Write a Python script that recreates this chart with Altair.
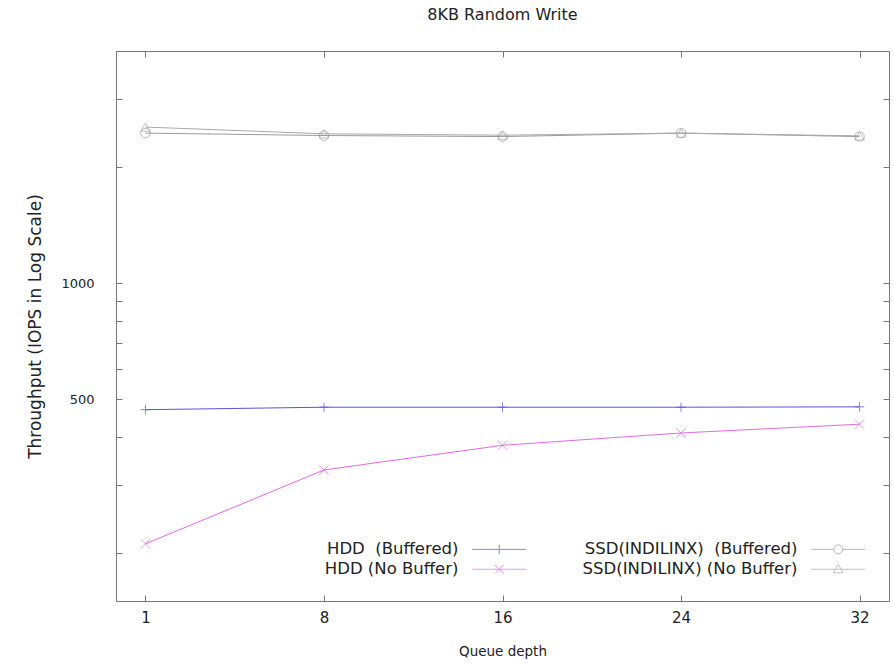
import altair as alt
import pandas as pd

queue_depth = [1, 8, 16, 24, 32]
series_names = ["HDD\u00a0 (Buffered)", "HDD (No Buffer)",
                "SSD(INDILINX)\u00a0 (Buffered)", "SSD(INDILINX) (No Buffer)"]
hdd_buffered = [470, 477, 477, 477, 478]
hdd_nobuffer = [211, 328, 380, 409, 431]
ssd_buffered = [2450, 2415, 2400, 2450, 2400]
ssd_nobuffer = [2540, 2440, 2420, 2450, 2410]
y_tick_values = [200, 300, 400, 500, 600, 700, 800, 900, 1000, 2000, 3000]

rows = []
for name, vals in zip(series_names, [hdd_buffered, hdd_nobuffer, ssd_buffered, ssd_nobuffer]):
    for q, v in zip(queue_depth, vals):
        rows.append({"qd": q, "iops": v, "series": name})
df = pd.DataFrame(rows)

colors = ["#5555dd", "#e46ae4", "#9a9a9a", "#a8a8a8"]
plot_shapes = ["M-1,0H1M0,-1V1", "M-1,-1L1,1M-1,1L1,-1", "circle", "triangle-up"]
legend_shapes = [
    "M-6,0H6M0,-1V1",
    "M-6,0H6M-1,-1L1,1M-1,1L1,-1",
    "M-6,0H-1A1,1 0 1,1 1,0A1,1 0 1,1 -1,0M1,0H6",
    "M-6,0H6M0,-1.1L1.1,0.8L-1.1,0.8Z",
]

font = "DejaVu Sans"
xscale = alt.Scale(type="point", padding=0.165)
yscale = alt.Scale(type="log", domain=[150, 4000], nice=False)
cscale = alt.Scale(domain=series_names, range=colors)

x_main = alt.X("qd:O", scale=xscale, title="Queue depth",
               axis=alt.Axis(orient="bottom", labelAngle=0, domain=False, offset=-6,
                             tickSize=6, labelPadding=9, titlePadding=19, titleFontSize=13.5,
                             labelFontSize=15))
y_main = alt.Y("iops:Q", scale=yscale, title="Throughput (IOPS in Log Scale)",
               axis=alt.Axis(orient="left", values=y_tick_values, domain=False, offset=-6,
                             tickSize=6, labelPadding=22, titlePadding=16, grid=False,
                             titleFontSize=17,
                             labelExpr="(datum.value == 500 || datum.value == 1000) ? format(datum.value, 'd') : ''"))

base = alt.Chart(df)

lines = base.mark_line(strokeWidth=1).encode(
    x=x_main, y=y_main,
    color=alt.Color("series:N", scale=cscale, legend=None),
    detail="series:N",
)

points = base.mark_point(filled=False, size=90, strokeWidth=1).encode(
    x=alt.X("qd:O", scale=xscale, axis=None),
    y=alt.Y("iops:Q", scale=yscale, axis=None),
    color=alt.Color("series:N", scale=cscale, legend=None),
    shape=alt.Shape("series:N", scale=alt.Scale(domain=series_names, range=plot_shapes), legend=None),
)

mirror = base.mark_point(opacity=0).encode(
    x=alt.X("qd:O", scale=xscale,
            axis=alt.Axis(orient="top", labels=False, title=None, domain=False, offset=-6, tickSize=6)),
    y=alt.Y("iops:Q", scale=yscale,
            axis=alt.Axis(orient="right", labels=False, title=None, domain=False, offset=-6,
                          tickSize=6, values=y_tick_values, grid=False)),
)

leg = alt.Legend(orient="none", legendX=375, legendY=490, columns=2, title=None,
                 labelAlign="right", labelOffset={"expr": "-49"}, labelFontSize=16.5, labelFont=font,
                 labelColor="#222", labelLimit=400, symbolSize=81, symbolStrokeWidth=1,
                 columnPadding=53, rowPadding=3)

legend_layer = base.mark_point(filled=False).encode(
    x=alt.X("qd:O", scale=xscale, axis=None),
    y=alt.Y("iops:Q", scale=yscale, axis=None),
    color=alt.Color("series:N", scale=cscale, legend=leg),
    shape=alt.Shape("series:N", scale=alt.Scale(domain=series_names, range=legend_shapes), legend=leg),
).transform_filter("false")

chart = alt.layer(lines, points, mirror, legend_layer).resolve_scale(
    color="independent", shape="independent"
).resolve_axis(
    x="independent", y="independent"
).properties(
    width=773, height=550,
    title=alt.Title("8KB Random Write", fontSize=16, font=font, fontWeight="normal",
                    color="#222", offset=28),
    autosize=alt.AutoSizeParams(type="none"),
    padding={"left": 116, "top": 51, "right": 5, "bottom": 64},
).configure_view(
    stroke="#777", strokeWidth=1
).configure_axis(
    tickColor="#777", labelFont=font, titleFont=font, labelFontSize=13, titleFontSize=13,
    labelColor="#222", titleColor="#222", titleFontWeight="normal"
)

chart.save("out.html", embed_options={"renderer": "svg", "actions": False})
